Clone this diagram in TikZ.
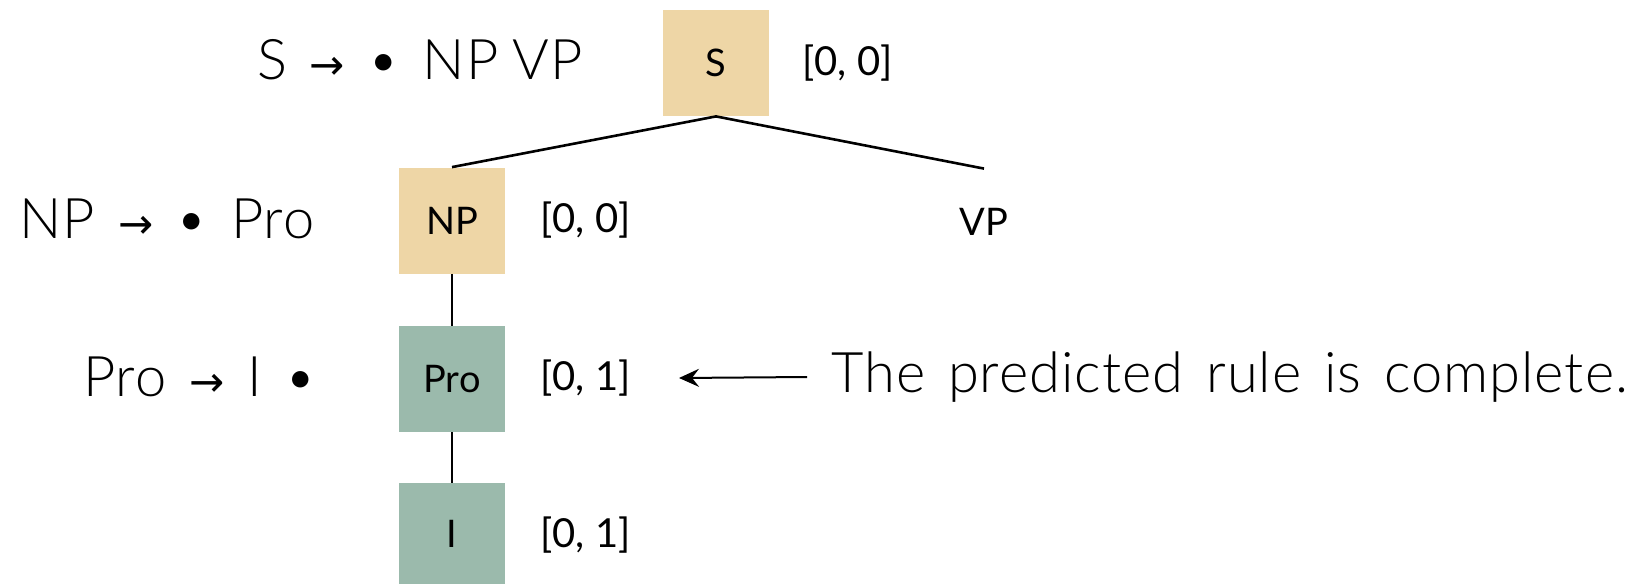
\documentclass[tikz,border=0pt]{standalone}
\usepackage{fontspec}
\setmainfont{Lato}
\newfontfamily\thinfont[LetterSpace=1.8,WordSpace=1.4]{Lato Light}
\newfontfamily\arrowfont{DejaVu Sans}
\usetikzlibrary{arrows.meta}

\definecolor{chartan}{RGB}{238,214,166}
\definecolor{charsage}{RGB}{155,186,172}
\newcommand{\rulearrow}{{\arrowfont\fontsize{21}{21}\selectfont →}}

\begin{document}
\begin{tikzpicture}[x=0.5pt,y=0.5pt]
	\tikzstyle{every node}+=[inner sep=0pt]
	\tikzstyle{cat}=[minimum width=53pt,minimum height=53pt,font=\fontsize{19}{19}\selectfont]
	\tikzstyle{span}=[anchor=west,font=\fontsize{20}{20}\selectfont]
	\tikzstyle{dotted rule}=[font=\thinfont\fontsize{28}{28}\selectfont]
	\useasboundingbox (0,0) rectangle (1633,-584);
	% tree
	\node [cat,fill=chartan] (S) at (716,-63) {S};
	\node [cat,fill=chartan] (NP) at (452,-220.5) {NP};
	\node [cat] (VP) at (984,-222) {VP};
	\node [cat,fill=charsage] (Pro) at (452,-379) {Pro};
	\node [cat,fill=charsage,minimum height=50.5pt] (I) at (452,-533.5) {I};
	\draw [line width=1.3pt] (S.south) -- (NP.north);
	\draw [line width=1.3pt] (S.south) -- (VP.north);
	\draw [line width=1pt] (NP.south) -- (Pro.north);
	\draw [line width=1pt] (Pro.south) -- (I.north);
	% spans
	\node [span] (Sspan) at (802,-63) {[0, 0]};
	\node [span] (NPspan) at (540,-220) {[0, 0]};
	\node [span] (Prospan) at (540,-378) {[0, 1]};
	\node [span] (Ispan) at (540,-535) {[0, 1]};
	% dotted rules
	\node [dotted rule] (Srule) at (420,-60) {S \rulearrow{} • NP\hspace{0.25em}VP};
	\node [dotted rule] (NPrule) at (167,-219) {NP \rulearrow{} • Pro};
	\node [dotted rule] (Prorule) at (200,-377) {Pro \rulearrow{} I •};
	% note
	\node [dotted rule,anchor=west] (note) at (831,-377) {The predicted rule is complete.};
	\draw [line width=1pt,-{Stealth[length=10pt,width=9pt,inset=3.5pt]}] ([xshift=-12pt]note.west) -- ([xshift=24pt]Prospan.east);
\end{tikzpicture}
\end{document}
